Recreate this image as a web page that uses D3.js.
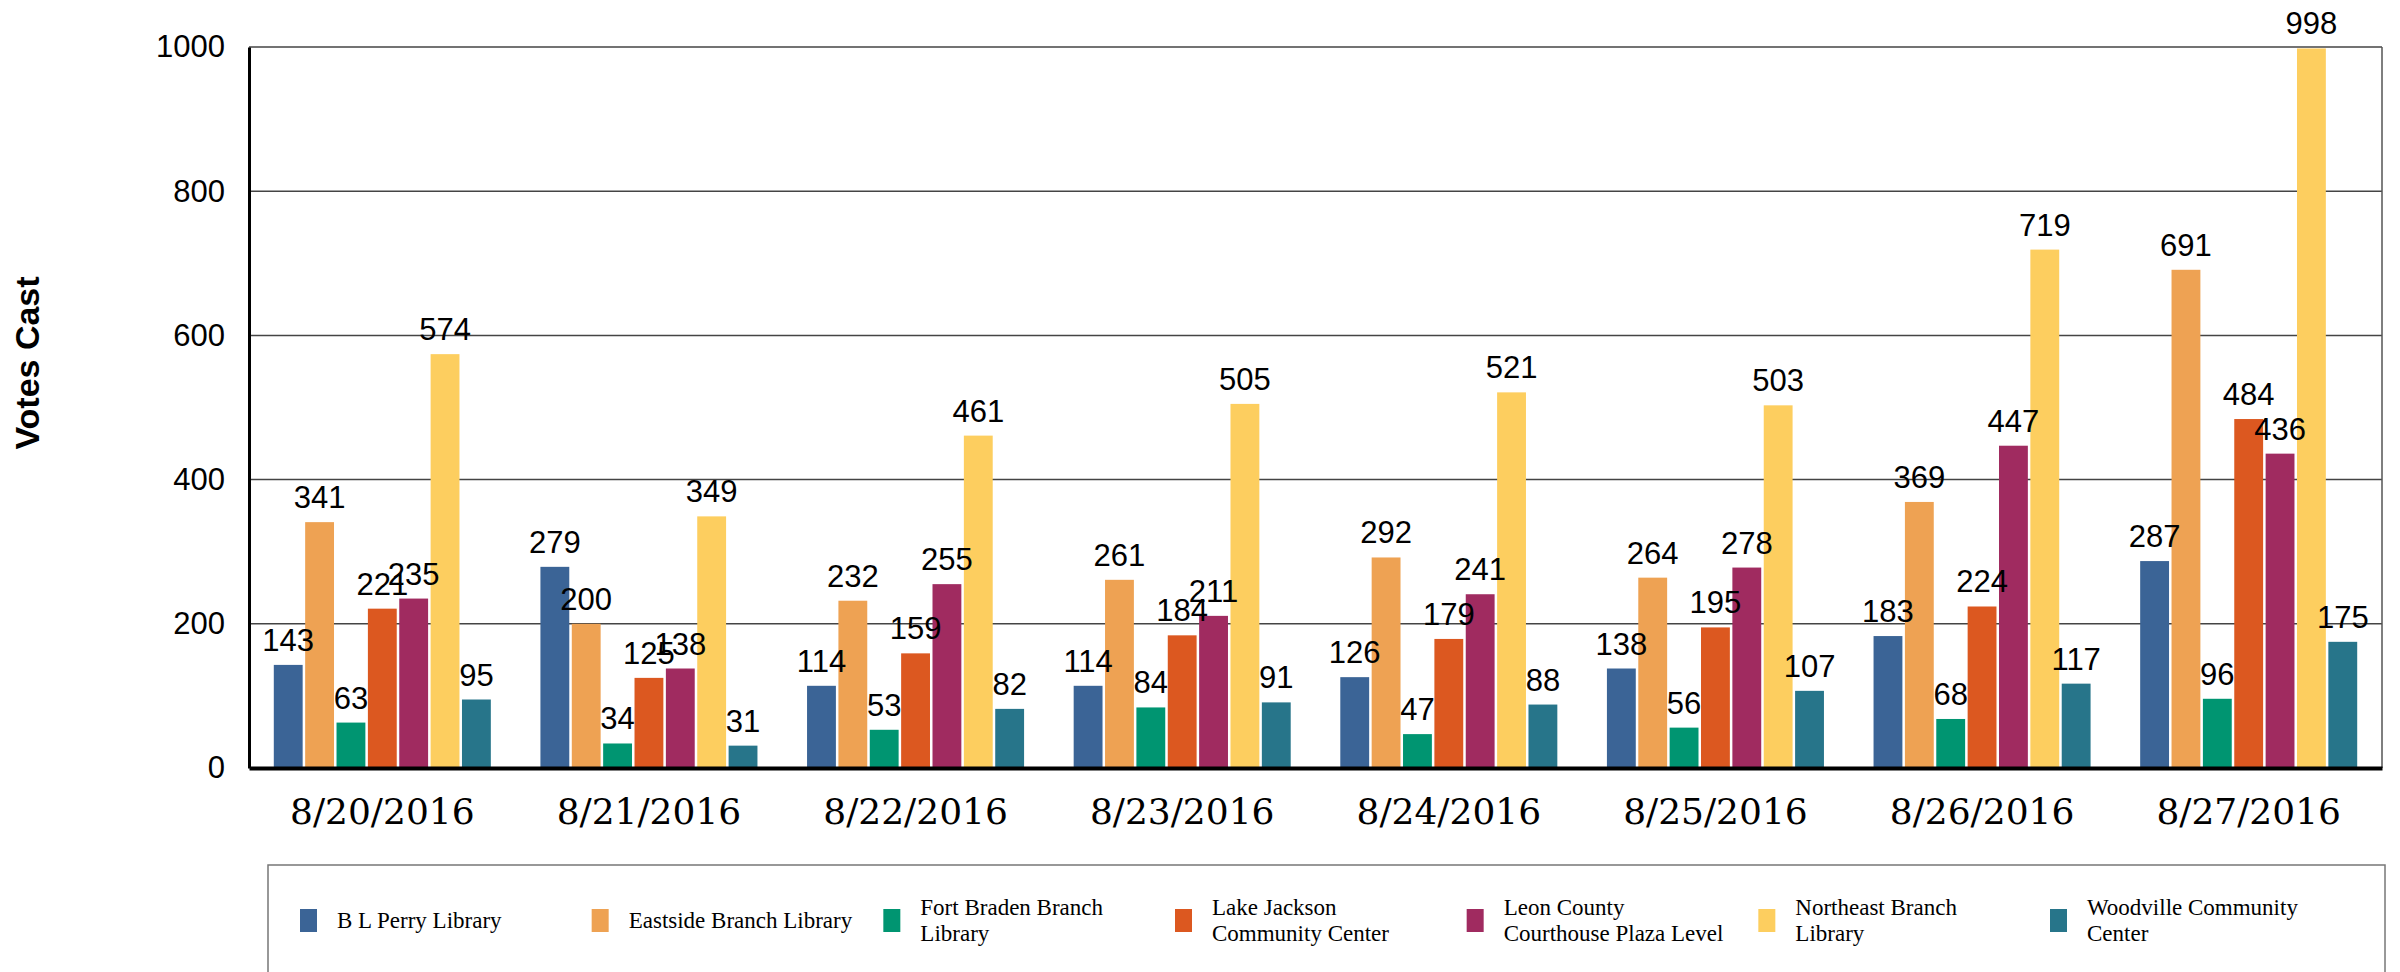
<!DOCTYPE html>
<html>
<head>
<meta charset="utf-8">
<script src="https://cdn.jsdelivr.net/npm/d3@7"></script>
<style>
  body { margin: 0; background: #fff; }
  svg { display: block; }
</style>
</head>
<body>
<svg id="chart" width="2400" height="972"></svg>
<script>
// data
var dates = ["8/20/2016", "8/21/2016", "8/22/2016", "8/23/2016", "8/24/2016", "8/25/2016", "8/26/2016", "8/27/2016"];
var sites = ["B L Perry Library", "Eastside Branch Library", "Fort Braden Branch Library",
  "Lake Jackson Community Center", "Leon County Courthouse Plaza Level",
  "Northeast Branch Library", "Woodville Community Center"];
var legendLines = [["B L Perry Library"], ["Eastside Branch Library"], ["Fort Braden Branch", "Library"],
  ["Lake Jackson", "Community Center"], ["Leon County", "Courthouse Plaza Level"],
  ["Northeast Branch", "Library"], ["Woodville Community", "Center"]];
var blPerry     = [143, 279, 114, 114, 126, 138, 183, 287];
var eastside    = [341, 200, 232, 261, 292, 264, 369, 691];
var fortBraden  = [63, 34, 53, 84, 47, 56, 68, 96];
var lakeJackson = [221, 125, 159, 184, 179, 195, 224, 484];
var leonCounty  = [235, 138, 255, 211, 241, 278, 447, 436];
var northeast   = [574, 349, 461, 505, 521, 503, 719, 998];
var woodville   = [95, 31, 82, 91, 88, 107, 117, 175];
var yTicks = [0, 200, 400, 600, 800, 1000];

var series = [blPerry, eastside, fortBraden, lakeJackson, leonCounty, northeast, woodville];
var colors = ["#3b6496", "#eea253", "#009571", "#dc5820", "#a02b60", "#fdce5f", "#27758a"];

var svg = d3.select("#chart");
var plotLeft = 249, plotRight = 2382, plotTop = 47, plotBottom = 768;

var x0 = d3.scaleBand().domain(dates).range([plotLeft, plotRight]);
var x1 = d3.scaleBand().domain(d3.range(sites.length))
    .range([x0.bandwidth() * 0.093, x0.bandwidth() * 0.907])
    .paddingInner(0.08);
var y = d3.scaleLinear().domain([0, 1000]).range([plotBottom, plotTop]);
var z = d3.scaleOrdinal().domain(d3.range(sites.length)).range(colors);

// gridlines
svg.append("g").selectAll("line")
  .data(yTicks.slice(1))
  .enter().append("line")
    .attr("x1", plotLeft).attr("x2", plotRight)
    .attr("y1", function(d) { return y(d); })
    .attr("y2", function(d) { return y(d); })
    .attr("stroke", "#444").attr("stroke-width", 1.5);

// right border
svg.append("line")
  .attr("x1", plotRight).attr("x2", plotRight).attr("y1", y(1000)).attr("y2", plotBottom)
  .attr("stroke", "#555").attr("stroke-width", 1.5);

// y axis
var yAxis = svg.append("g")
    .attr("transform", "translate(" + plotLeft + ",0)")
    .call(d3.axisLeft(y).tickValues(yTicks).tickSize(0).tickPadding(24).tickFormat(d3.format("d")));
yAxis.select(".domain").attr("stroke", "#000").attr("stroke-width", 3);
yAxis.selectAll("text")
    .style("font", "31px 'Liberation Sans', Arial, sans-serif")
    .attr("fill", "#000");

svg.append("text")
    .attr("transform", "translate(27,363) rotate(-90)")
    .attr("text-anchor", "middle")
    .attr("dy", "0.35em")
    .style("font", "bold 34px 'Liberation Sans', Arial, sans-serif")
    .text("Votes Cast");

// bars
var rows = dates.map(function(d, i) {
  return { date: d, values: series.map(function(s, k) { return { k: k, v: s[i] }; }) };
});

var group = svg.append("g").selectAll(".day")
  .data(rows)
  .enter().append("g")
    .attr("class", "day")
    .attr("transform", function(d) { return "translate(" + x0(d.date) + ",0)"; });

group.selectAll("rect")
  .data(function(d) { return d.values; })
  .enter().append("rect")
    .attr("x", function(d) { return x1(d.k); })
    .attr("y", function(d) { return y(d.v); })
    .attr("width", x1.bandwidth())
    .attr("height", function(d) { return plotBottom - y(d.v); })
    .attr("fill", function(d) { return z(d.k); });

group.selectAll("text")
  .data(function(d) { return d.values; })
  .enter().append("text")
    .attr("x", function(d) { return x1(d.k) + x1.bandwidth() / 2; })
    .attr("y", function(d) { return y(d.v) - 14; })
    .attr("text-anchor", "middle")
    .style("font", "31px 'Liberation Sans', Arial, sans-serif")
    .text(function(d) { return d.v; });

// x axis
var xAxis = svg.append("g")
    .attr("transform", "translate(0," + plotBottom + ")")
    .call(d3.axisBottom(x0).tickSize(0).tickPadding(30));
xAxis.select(".domain").attr("stroke", "#000").attr("stroke-width", 4);
xAxis.selectAll("text")
    .style("font", "36px 'DejaVu Serif', serif")
    .attr("fill", "#000");

// legend
var lg = svg.append("g");
lg.append("rect")
    .attr("x", 268).attr("y", 865).attr("width", 2385 - 268).attr("height", 130)
    .attr("fill", "none").attr("stroke", "#777").attr("stroke-width", 1.5);

var lx = d3.scalePoint().domain(d3.range(sites.length)).range([300, 2050]);

var item = lg.selectAll(".item")
  .data(sites)
  .enter().append("g")
    .attr("class", "item")
    .attr("transform", function(d, i) { return "translate(" + lx(i) + ",920)"; });

item.append("rect")
    .attr("x", 0).attr("y", -11).attr("width", 17).attr("height", 23)
    .attr("fill", function(d, i) { return z(i); });

item.append("text")
    .style("font", "23px 'Liberation Serif', serif")
    .selectAll("tspan")
    .data(function(d, i) { return legendLines[i].map(function(t, j, a) { return { t: t, j: j, n: a.length }; }); })
    .enter().append("tspan")
      .attr("x", 37)
      .attr("y", function(d) { return (d.j - (d.n - 1) / 2) * 26; })
      .attr("dy", "0.35em")
      .text(function(d) { return d.t; });
</script>
</body>
</html>
